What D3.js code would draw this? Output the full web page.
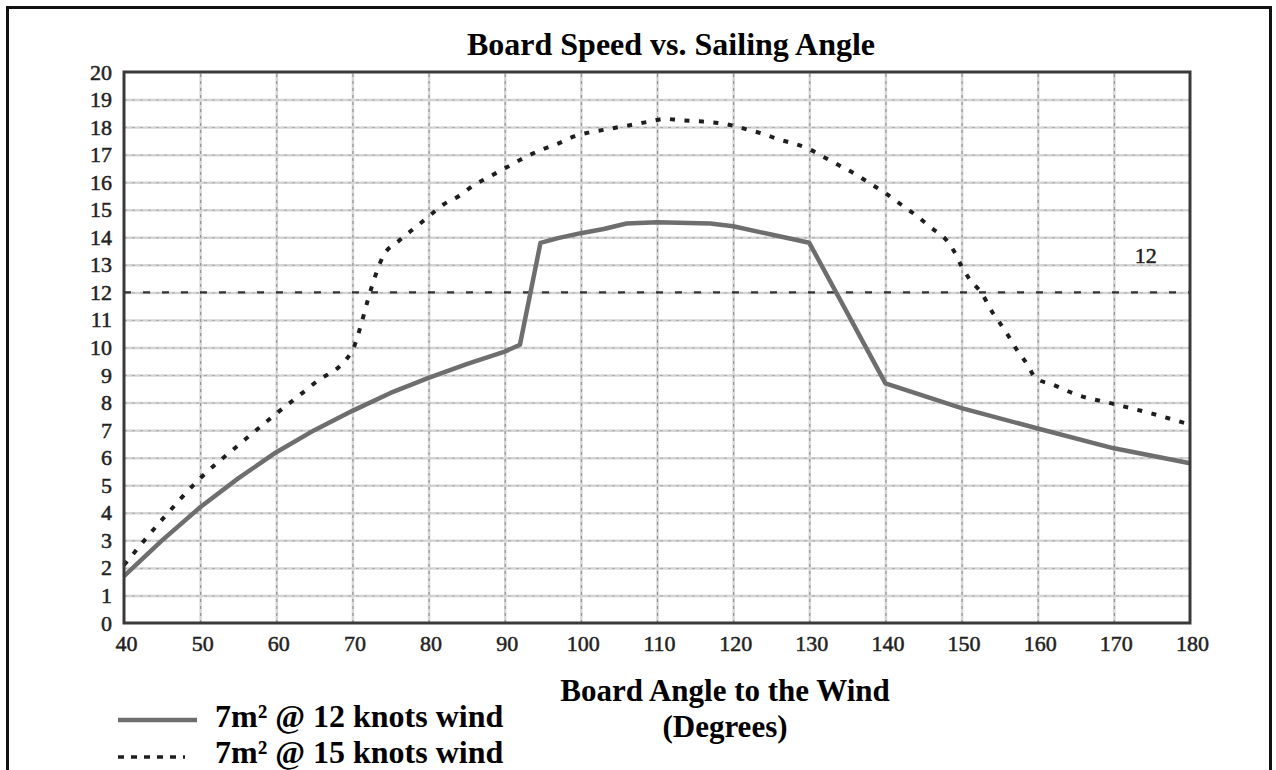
<!DOCTYPE html>
<html>
<head>
<meta charset="utf-8">
<script src="https://cdnjs.cloudflare.com/ajax/libs/d3/7.8.5/d3.min.js"></script>
<style>
  html, body { margin: 0; padding: 0; background: #fff; }
  svg { display: block; }
</style>
</head>
<body>
<script>
// ---- Data ----
const angles12 = [40, 45, 50, 55, 60, 65, 70, 75, 80, 85, 90, 92, 94.7, 97, 100, 103, 106, 110, 117, 120, 125, 130, 140, 150, 160, 170, 180];
const speeds12 = [1.7, 3.0, 4.2, 5.25, 6.2, 7.0, 7.7, 8.35, 8.9, 9.4, 9.85, 10.1, 13.8, 13.97, 14.15, 14.3, 14.5, 14.55, 14.5, 14.4, 14.1, 13.8, 8.7, 7.8, 7.06, 6.34, 5.8];

const angles15 = [40, 45, 50, 55, 60, 65, 70, 71, 72, 73, 74, 76, 78, 80, 82, 84, 86, 88, 90, 93, 95, 97, 99, 101, 103, 105, 107, 109, 111, 113, 116, 118, 120, 122, 124, 126, 128, 130, 132, 134, 136, 138, 140, 142, 144, 146, 148, 149, 150, 151, 152.7, 154, 155, 156.2, 157.3, 158.6, 159.7, 162, 165, 170, 175, 180];
const speeds15 = [2.1, 3.75, 5.25, 6.45, 7.6, 8.7, 9.9, 10.7, 11.7, 12.6, 13.3, 13.85, 14.3, 14.75, 15.2, 15.5, 15.9, 16.2, 16.5, 16.95, 17.2, 17.4, 17.65, 17.8, 17.9, 18.0, 18.1, 18.2, 18.3, 18.25, 18.2, 18.15, 18.05, 17.9, 17.75, 17.55, 17.4, 17.2, 16.9, 16.6, 16.3, 15.95, 15.6, 15.2, 14.8, 14.35, 13.9, 13.5, 12.95, 12.5, 11.95, 11.3, 10.9, 10.4, 9.9, 9.4, 8.9, 8.65, 8.3, 7.95, 7.6, 7.2];

const referenceSpeed = 12;
const xTicks = [40, 50, 60, 70, 80, 90, 100, 110, 120, 130, 140, 150, 160, 170, 180];
const yTicks = [0, 1, 2, 3, 4, 5, 6, 7, 8, 9, 10, 11, 12, 13, 14, 15, 16, 17, 18, 19, 20];

const titleText = "Board Speed vs. Sailing Angle";
const xTitleLines = ["Board Angle to the Wind", "(Degrees)"];
const legendLabels = ["7m\u00B2 @ 12 knots wind", "7m\u00B2 @ 15 knots wind"];

// ---- Layout ----
const W = 1276, H = 770;
const L = 124, R = 1190, T = 72, B = 623;

const svg = d3.select("body").append("svg").attr("width", W).attr("height", H);

// outer frame
svg.append("rect")
  .attr("x", 7.5).attr("y", 7.5).attr("width", 1263).attr("height", 800)
  .attr("fill", "none").attr("stroke", "#111").attr("stroke-width", 3);

const x = d3.scaleLinear().domain([40, 180]).range([L, R]);
const y = d3.scaleLinear().domain([0, 20]).range([B, T]);

const serif = "'Liberation Serif', 'Times New Roman', serif";

// grid lines
const gridY = svg.append("g").attr("transform", `translate(${L},0)`)
  .call(d3.axisLeft(y).tickValues(yTicks.slice(1, -1)).tickSize(-(R - L)).tickFormat(""));
gridY.select(".domain").remove();
gridY.selectAll("line").attr("stroke", "#d6d6d6").attr("stroke-width", 2.5);
const gridY2 = svg.append("g").attr("transform", `translate(${L},0)`)
  .call(d3.axisLeft(y).tickValues(yTicks.slice(1, -1)).tickSize(-(R - L)).tickFormat(""));
gridY2.select(".domain").remove();
gridY2.selectAll("line").attr("stroke", "#888").attr("stroke-width", 1).attr("stroke-dasharray", "3,5").attr("opacity", 0.6);

const gridX = svg.append("g").attr("transform", `translate(0,${B})`)
  .call(d3.axisBottom(x).tickValues(xTicks.slice(1, -1)).tickSize(-(B - T)).tickFormat(""));
gridX.select(".domain").remove();
gridX.selectAll("line").attr("stroke", "#d6d6d6").attr("stroke-width", 2.5);
const gridX2 = svg.append("g").attr("transform", `translate(0,${B})`)
  .call(d3.axisBottom(x).tickValues(xTicks.slice(1, -1)).tickSize(-(B - T)).tickFormat(""));
gridX2.select(".domain").remove();
gridX2.selectAll("line").attr("stroke", "#777").attr("stroke-width", 1).attr("stroke-dasharray", "3,4").attr("opacity", 0.8);

// reference line at 12
svg.append("line")
  .attr("x1", x(40)).attr("x2", x(180))
  .attr("y1", y(referenceSpeed)).attr("y2", y(referenceSpeed))
  .attr("stroke", "#333").attr("stroke-width", 2.2).attr("stroke-dasharray", "7,12");

svg.append("text")
  .attr("x", x(174.2)).attr("y", y(13.05))
  .attr("text-anchor", "middle").attr("font-family", serif).attr("font-size", 22)
  .attr("fill", "#222").attr("stroke", "#222").attr("stroke-width", 0.5)
  .text(String(referenceSpeed));

// lines
const line = d3.line().x(d => x(d[0])).y(d => y(d[1]));

svg.append("path")
  .datum(angles15.map((a, i) => [a, speeds15[i]]))
  .attr("d", d3.line().x(d => x(d[0])).y(d => y(d[1])).curve(d3.curveMonotoneX))
  .attr("fill", "none").attr("stroke", "#1e1e1e").attr("stroke-width", 4)
  .attr("stroke-dasharray", "5,9.5");

svg.append("path")
  .datum(angles12.map((a, i) => [a, speeds12[i]]))
  .attr("d", line)
  .attr("fill", "none").attr("stroke", "#6e6e6e").attr("stroke-width", 4.5)
  .attr("stroke-linejoin", "round");

// plot frame
svg.append("rect")
  .attr("x", L).attr("y", T).attr("width", R - L).attr("height", B - T)
  .attr("fill", "none").attr("stroke", "#3a3a3a").attr("stroke-width", 3);

// axes labels
const yAxis = svg.append("g").attr("transform", `translate(${L},0)`)
  .call(d3.axisLeft(y).tickValues(yTicks).tickSize(0).tickPadding(12).tickFormat(d3.format("d")));
yAxis.select(".domain").remove();
yAxis.selectAll("text").attr("font-family", serif).attr("font-size", 22).attr("fill", "#222")
  .attr("stroke", "#222").attr("stroke-width", 0.5);

const xAxis = svg.append("g").attr("transform", `translate(2,${B})`)
  .call(d3.axisBottom(x).tickValues(xTicks).tickSize(0).tickPadding(12).tickFormat(d3.format("d")));
xAxis.select(".domain").remove();
xAxis.selectAll("text").attr("font-family", serif).attr("font-size", 22).attr("fill", "#222")
  .attr("stroke", "#222").attr("stroke-width", 0.5);

// title
svg.append("text")
  .attr("x", 671).attr("y", 55)
  .attr("text-anchor", "middle").attr("font-family", serif).attr("font-weight", "bold")
  .attr("font-size", 32).attr("fill", "#000").text(titleText);

// x title
xTitleLines.forEach((t, i) => {
  svg.append("text")
    .attr("x", 725).attr("y", 701 + i * 36)
    .attr("text-anchor", "middle").attr("font-family", serif).attr("font-weight", "bold")
    .attr("font-size", 31).attr("fill", "#000").text(t);
});

// legend
const lg = svg.append("g");
lg.append("line").attr("x1", 118).attr("x2", 197).attr("y1", 720).attr("y2", 720)
  .attr("stroke", "#6e6e6e").attr("stroke-width", 4.5);
lg.append("line").attr("x1", 118).attr("x2", 185).attr("y1", 757).attr("y2", 757)
  .attr("stroke", "#1e1e1e").attr("stroke-width", 3.5).attr("stroke-dasharray", "6,7");
legendLabels.forEach((t, i) => {
  lg.append("text")
    .attr("x", 215).attr("y", 727 + i * 36)
    .attr("font-family", serif).attr("font-weight", "bold")
    .attr("font-size", 32).attr("fill", "#000").text(t);
});
</script>
</body>
</html>
